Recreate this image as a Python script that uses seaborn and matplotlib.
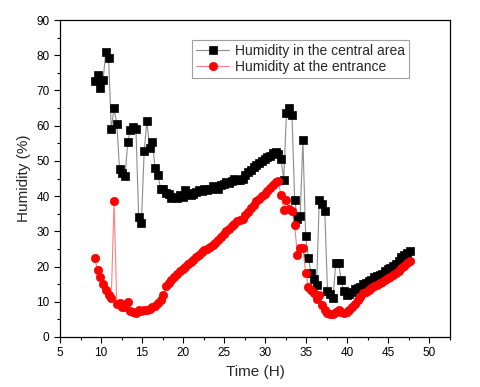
import numpy as np
import pandas as pd
import seaborn as sns
import matplotlib.pyplot as plt
from matplotlib.ticker import MultipleLocator

# sampling times (h), roughly every 20 minutes
time_h = [
    9.25, 9.58, 9.92, 10.25, 10.58, 10.92, 11.25, 11.58, 11.92, 12.25, 12.58, 12.92,
    13.25, 13.58, 13.92, 14.25, 14.58, 14.92, 15.25, 15.58, 15.92, 16.25, 16.58, 16.92,
    17.25, 17.58, 17.92, 18.25, 18.58, 18.92, 19.25, 19.58, 19.92, 20.25, 20.58, 20.92,
    21.25, 21.58, 21.92, 22.25, 22.58, 22.92, 23.25, 23.58, 23.92, 24.25, 24.58, 24.92,
    25.25, 25.58, 25.92, 26.25, 26.58, 26.92, 27.25, 27.58, 27.92, 28.25, 28.58, 28.92,
    29.25, 29.58, 29.92, 30.25, 30.58, 30.92, 31.25, 31.58, 31.92, 32.25, 32.58, 32.92,
    33.25, 33.58, 33.92, 34.25, 34.58, 34.92, 35.25, 35.58, 35.92, 36.25, 36.58, 36.92,
    37.25, 37.58, 37.92, 38.25, 38.58, 38.92, 39.25, 39.58, 39.92, 40.25, 40.58, 40.92,
    41.25, 41.58, 41.92, 42.25, 42.58, 42.92, 43.25, 43.58, 43.92, 44.25, 44.58, 44.92,
    45.25, 45.58, 45.92, 46.25, 46.58, 46.92, 47.25, 47.58,
]

humidity_central = [
    72.7, 74.4, 70.7, 73.1, 80.8, 79.1, 59.0, 64.9, 60.5, 47.7, 46.6, 45.6,
    55.3, 58.8, 59.5, 59.0, 34.2, 32.5, 52.7, 61.2, 53.6, 55.4, 48.0, 46.0,
    42.1, 42.0, 41.0, 40.6, 39.5, 39.8, 39.6, 40.2, 39.7, 41.6, 40.8, 40.2,
    40.6, 41.3, 41.8, 41.5, 41.9, 41.6, 42.0, 43.0, 42.2, 42.0, 43.1, 43.5,
    44.0, 43.8, 44.3, 44.9, 44.6, 44.5, 45.0, 46.0, 46.8, 47.5, 48.2, 48.7,
    49.3, 50.1, 50.6, 51.2, 51.5, 52.3, 52.5, 52.0, 50.5, 44.7, 63.5, 65.0,
    63.1, 39.0, 33.6, 34.3, 55.8, 28.6, 22.4, 18.3, 16.4, 14.9, 38.8, 37.8,
    35.7, 13.1, 12.1, 11.0, 20.9, 20.9, 16.1, 13.1, 11.9, 12.3, 12.9, 13.5,
    13.8, 14.3, 15.0, 15.2, 15.8, 16.1, 17.0, 17.4, 17.6, 18.0, 18.6, 19.2,
    19.6, 20.2, 20.8, 21.6, 22.6, 23.4, 23.9, 24.3,
]

humidity_entrance = [
    22.3, 19.0, 16.9, 15.1, 13.3, 11.9, 11.2, 38.5, 9.3, 9.7, 8.6, 8.4,
    9.9, 7.3, 7.0, 6.9, 7.6, 7.5, 7.6, 7.7, 7.9, 8.4, 8.9, 9.7,
    10.6, 12.0, 14.4, 15.3, 16.3, 17.1, 17.9, 18.6, 19.3, 19.9, 20.6, 21.2,
    21.8, 22.6, 23.3, 24.0, 24.6, 25.0, 25.5, 26.0, 26.8, 27.6, 28.4, 29.2,
    30.0, 30.6, 31.5, 32.2, 32.8, 33.3, 33.6, 34.6, 35.6, 36.6, 37.6, 38.5,
    39.2, 40.0, 40.6, 41.5, 42.3, 43.2, 44.0, 44.2, 40.2, 36.1, 38.8, 36.4,
    35.7, 31.7, 23.2, 25.4, 25.4, 18.2, 14.3, 13.3, 12.4, 10.9, 11.9, 9.1,
    7.6, 6.9, 6.6, 6.5, 7.2, 7.6, 7.2, 6.9, 7.2, 7.6, 8.6, 9.5,
    10.5, 11.4, 12.4, 12.9, 13.3, 13.9, 14.4, 14.8, 15.2, 15.7, 16.2, 16.7,
    17.1, 17.6, 18.1, 18.8, 19.5, 20.3, 21.0, 21.6,
]

df = pd.DataFrame({"Time (H)": time_h,
                   "central": humidity_central,
                   "entrance": humidity_entrance})

sns.set_style("white")
plt.rcParams['font.family'] = ['Liberation Sans', 'DejaVu Sans']

fig = plt.figure(figsize=(4.8, 3.87), dpi=100)
ax = fig.add_axes([0.125, 0.1292, 0.8125, 0.8191])

sns.lineplot(data=df, x="Time (H)", y="central", ax=ax, color="#8c8c8c",
             linewidth=0.8, marker="s", markersize=5.5, mfc="black", mec="black",
             mew=0.5, label="Humidity in the central area")
sns.lineplot(data=df, x="Time (H)", y="entrance", ax=ax, color="#ff8080",
             linewidth=0.8, marker="o", markersize=6, mfc="red", mec="red",
             mew=0.5, label="Humidity at the entrance")

ax.set_xlim(5, 52.5)
ax.set_ylim(0, 90)
ax.xaxis.set_major_locator(MultipleLocator(5))
ax.xaxis.set_minor_locator(MultipleLocator(2.5))
ax.yaxis.set_major_locator(MultipleLocator(10))
ax.yaxis.set_minor_locator(MultipleLocator(5))
ax.tick_params(which="both", direction="out", bottom=True, left=True,
               top=False, right=False, labelsize=8.5, colors="black")
ax.tick_params(which="major", length=4, width=0.8)
ax.tick_params(which="minor", length=2.5, width=0.8)

for s in ax.spines.values():
    s.set_color("black")
    s.set_linewidth(0.9)

ax.set_xlabel("Time (H)", fontsize=11)
ax.set_ylabel("Humidity (%)", fontsize=11)

leg = ax.legend(loc="upper left", bbox_to_anchor=(0.338, 0.937), fontsize=10,
                frameon=True, fancybox=False, borderaxespad=0, handlelength=2.4,
                handletextpad=0.4, borderpad=0.3, labelspacing=0.1)
leg.get_frame().set_edgecolor("#888888")
leg.get_frame().set_linewidth(0.8)

fig.savefig("out.png", dpi=100)
